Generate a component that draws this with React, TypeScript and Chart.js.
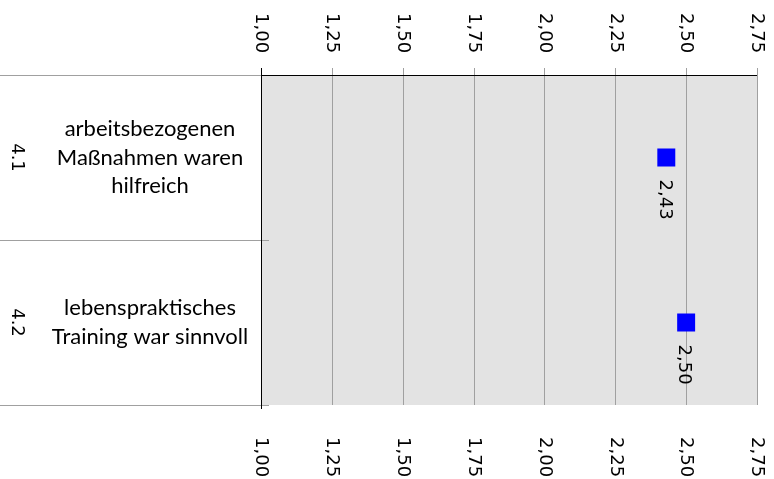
import React, { useEffect, useRef } from "react";
import { Chart, registerables } from "chart.js";

Chart.register(...registerables);

const categoryIds = ["4.1", "4.2"];
const categoryTexts = [
  ["arbeitsbezogenen", "Maßnahmen waren", "hilfreich"],
  ["lebenspraktisches", "Training war sinnvoll"],
];
const meanValues = [2.43, 2.5];
const tickValues = [1.0, 1.25, 1.5, 1.75, 2.0, 2.25, 2.5, 2.75];
const fmt = (v: number) => v.toFixed(2).replace(".", ",");
const numFont = '18px "DejaVu Sans"';

const decor = {
  id: "decor",
  beforeDatasetsDraw(chart: any) {
    const { ctx, chartArea: a, scales } = chart;
    const xs = scales.x;
    const ys = scales.y;
    ctx.save();
    ctx.fillStyle = "#e3e3e3";
    ctx.fillRect(a.left, a.top, a.right - a.left, a.bottom - a.top);
    ctx.strokeStyle = "#a0a0a0";
    ctx.lineWidth = 1;
    tickValues.forEach((t) => {
      const x = Math.round(xs.getPixelForValue(t)) + 0.5;
      ctx.beginPath();
      ctx.moveTo(x, a.top - 7);
      ctx.lineTo(x, a.bottom);
      ctx.stroke();
    });
    const n = categoryIds.length;
    const step = (a.bottom - a.top) / n;
    for (let i = 0; i <= n; i++) {
      const y = Math.round(a.top + i * step) + 0.5;
      ctx.beginPath();
      ctx.moveTo(0, y);
      ctx.lineTo(a.left + 8, y);
      ctx.stroke();
    }
    ctx.strokeStyle = "#000";
    ctx.beginPath();
    ctx.moveTo(Math.round(a.left) + 0.5, a.top - 7);
    ctx.lineTo(Math.round(a.left) + 0.5, a.bottom + 4);
    ctx.stroke();
    ctx.beginPath();
    ctx.moveTo(a.left, Math.round(a.top) + 0.5);
    ctx.lineTo(a.right, Math.round(a.top) + 0.5);
    ctx.stroke();
    ctx.fillStyle = "#000";
    ctx.font = numFont;
    ctx.textAlign = "left";
    ctx.textBaseline = "middle";
    tickValues.forEach((t) => {
      const x = xs.getPixelForValue(t);
      [13, 437].forEach((y0) => {
        ctx.save();
        ctx.translate(x, y0);
        ctx.rotate(Math.PI / 2);
        ctx.fillText(fmt(t), 0, 0);
        ctx.restore();
      });
    });
    categoryIds.forEach((id, i) => {
      const cy = ys.getPixelForValue(i);
      ctx.save();
      ctx.font = numFont;
      ctx.textAlign = "center";
      ctx.translate(17, cy);
      ctx.rotate(Math.PI / 2);
      ctx.fillText(id, 0, 0);
      ctx.restore();
      const lines = categoryTexts[i];
      const lh = 28.5;
      ctx.font = '22px "Lato"';
      ctx.textAlign = "center";
      lines.forEach((ln, j) => {
        const y = cy + (j - (lines.length - 1) / 2) * lh;
        ctx.fillText(ln, 150, y);
      });
    });
    ctx.restore();
  },
  afterDatasetsDraw(chart: any) {
    const { ctx } = chart;
    const meta = chart.getDatasetMeta(0);
    ctx.save();
    ctx.fillStyle = "#000";
    ctx.font = numFont;
    ctx.textAlign = "left";
    ctx.textBaseline = "middle";
    meta.data.forEach((pt: any, i: number) => {
      ctx.save();
      ctx.translate(pt.x - 2, pt.y + 22);
      ctx.rotate(Math.PI / 2);
      ctx.fillText(fmt(meanValues[i]), 0, 0);
      ctx.restore();
    });
    ctx.restore();
  },
};

export default function App() {
  const ref = useRef<HTMLCanvasElement>(null);
  useEffect(() => {
    document.body.style.margin = "0";
    const chart = new Chart(ref.current!, {
      type: "line",
      data: {
        labels: categoryIds,
        datasets: [
          {
            data: meanValues,
            showLine: false,
            pointStyle: "rect",
            pointRadius: 12.7,
            pointHoverRadius: 12.7,
            backgroundColor: "#0000ff",
            borderColor: "#0000ff",
            borderWidth: 0,
          },
        ],
      },
      options: {
        indexAxis: "y",
        animation: false,
        responsive: false,
        maintainAspectRatio: false,
        layout: { padding: { left: 261, right: 17, top: 75, bottom: 74 } },
        plugins: { legend: { display: false }, tooltip: { enabled: false } },
        scales: {
          x: { type: "linear", min: 1, max: 2.75, display: false },
          y: { type: "category", offset: true, display: false },
        },
      },
      plugins: [decor],
    });
    return () => chart.destroy();
  }, []);
  return (
    <div style={{ position: "fixed", left: 0, top: 0, width: 774, height: 479 }}>
      <canvas ref={ref} width={774} height={479} style={{ width: 774, height: 479 }} />
    </div>
  );
}
